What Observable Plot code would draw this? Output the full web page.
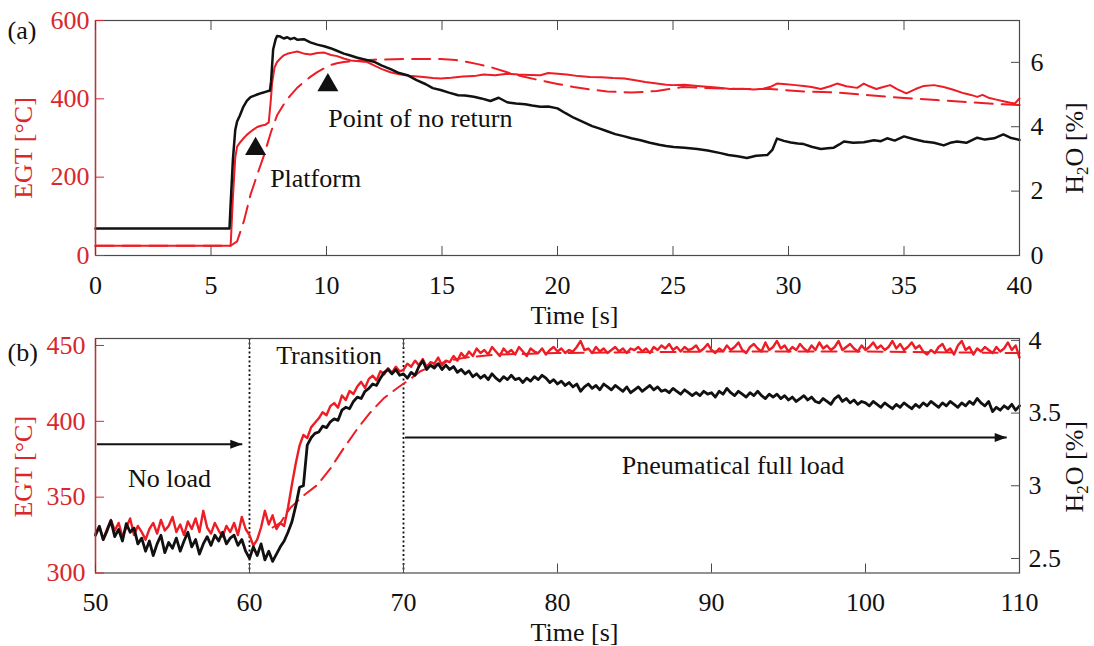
<!DOCTYPE html>
<html><head><meta charset="utf-8">
<script src="https://cdn.jsdelivr.net/npm/d3@7"></script>
<script src="https://cdn.jsdelivr.net/npm/@observablehq/plot@0.6"></script>
<style>
html,body{margin:0;padding:0;background:#fff;}
#chart svg{display:block;}
</style></head><body><div id="chart"></div>
<script>
// ---------- Panel (a) data ----------
const xTicksA = [0, 5, 10, 15, 20, 25, 30, 35, 40];
const egtTicksA = [0, 200, 400, 600];
const h2oTicksA = [0, 2, 4, 6];
const xDomainA = [0, 40];
const egtDomainA = [0, 600];
const h2oDomainA = [0, 7.3];

const tA_h2o = [0, 5.8, 5.85, 5.95, 6.05, 6.13, 6.25, 6.4, 6.55, 6.71, 6.85, 7.0, 7.2, 7.43, 7.55, 7.6, 7.69, 7.8, 7.86, 8.0, 8.15, 8.3, 8.44, 8.6, 8.75, 9.02, 9.3, 9.6, 9.9, 10.17, 10.45, 10.75, 11.0, 11.3, 11.6, 12.05, 12.4, 12.8, 13.1, 13.5, 13.9, 14.3, 14.6, 14.94, 15.3, 15.7, 16.0, 16.38, 16.7, 17.1, 17.45, 17.82, 18.2, 18.6, 18.9, 19.26, 19.6, 20.0, 20.35, 20.7, 21.1, 21.5, 21.8, 22.15, 22.5, 22.9, 23.2, 23.6, 24.0, 24.4, 24.7, 25.03, 25.5, 26.05, 26.5, 27.06, 27.4, 27.8, 28.2, 28.6, 29.08, 29.3, 29.5, 29.8, 30.1, 30.4, 30.66, 31.0, 31.4, 31.7, 31.96, 32.2, 32.4, 32.8, 33.26, 33.7, 34.0, 34.27, 34.6, 35.0, 35.4, 35.86, 36.3, 36.72, 37.0, 37.3, 37.7, 38.17, 38.5, 38.9, 39.3, 39.6, 40];
const h2oA = [0.84, 0.84, 1.6, 3.0, 3.9, 4.16, 4.35, 4.62, 4.8, 4.92, 4.96, 5.0, 5.05, 5.1, 5.12, 5.4, 6.4, 6.72, 6.82, 6.8, 6.74, 6.78, 6.72, 6.76, 6.7, 6.72, 6.62, 6.55, 6.5, 6.44, 6.36, 6.27, 6.22, 6.15, 6.1, 6.02, 5.9, 5.78, 5.68, 5.6, 5.45, 5.32, 5.2, 5.14, 5.06, 4.98, 4.97, 4.93, 4.88, 4.8, 4.9, 4.76, 4.72, 4.7, 4.66, 4.62, 4.63, 4.57, 4.42, 4.28, 4.15, 4.02, 3.95, 3.86, 3.77, 3.7, 3.64, 3.58, 3.5, 3.44, 3.4, 3.37, 3.35, 3.31, 3.26, 3.18, 3.12, 3.08, 3.03, 3.1, 3.12, 3.28, 3.63, 3.56, 3.51, 3.48, 3.46, 3.38, 3.31, 3.33, 3.35, 3.45, 3.54, 3.5, 3.52, 3.58, 3.55, 3.64, 3.57, 3.7, 3.62, 3.54, 3.5, 3.42, 3.5, 3.54, 3.5, 3.66, 3.6, 3.64, 3.76, 3.66, 3.59];

const tA_egt = [0, 5.85, 5.95, 6.05, 6.13, 6.25, 6.42, 6.55, 6.71, 6.85, 7.0, 7.2, 7.36, 7.5, 7.58, 7.65, 7.75, 7.86, 8.0, 8.15, 8.3, 8.5, 8.73, 9.0, 9.3, 9.6, 9.9, 10.2, 10.46, 10.75, 11.05, 11.4, 11.76, 12.1, 12.4, 12.77, 13.2, 13.7, 14.2, 14.6, 14.94, 15.4, 15.9, 16.38, 16.8, 17.3, 17.82, 18.3, 18.8, 19.26, 19.6, 20.0, 20.4, 20.9, 21.4, 21.9, 22.4, 22.9, 23.3, 23.8, 24.3, 24.7, 25.0, 25.5, 26.05, 26.6, 27.0, 27.5, 28.0, 28.5, 28.9, 29.2, 29.5, 29.9, 30.3, 30.66, 31.0, 31.4, 31.8, 32.1, 32.5, 32.97, 33.26, 33.5, 33.8, 34.1, 34.4, 34.7, 35.1, 35.5, 35.86, 36.3, 36.72, 37.1, 37.6, 37.9, 38.17, 38.4, 38.7, 39.0, 39.3, 39.6, 39.8, 40];
const egtA = [25, 25, 150, 250, 278, 288, 300, 308, 316, 322, 328, 332, 334, 340, 390, 443, 480, 494, 503, 511, 515, 518, 521, 516, 513, 517, 518, 512, 509, 503, 498, 496, 494, 484, 476, 468, 462, 458, 456, 453, 452, 454, 457, 458, 462, 460, 464, 462, 461, 460, 466, 464, 462, 458, 456, 455, 453, 452, 448, 443, 439, 436, 435, 436, 433, 430, 428, 425, 426, 424, 426, 430, 439, 437, 435, 433, 430, 425, 432, 439, 432, 428, 439, 432, 425, 430, 435, 425, 414, 425, 433, 435, 430, 424, 414, 410, 405, 410, 402, 398, 394, 390, 388, 401];

const tA_model = [0, 5.85, 6.13, 6.42, 6.71, 7.0, 7.3, 7.6, 7.86, 8.15, 8.44, 8.73, 9.02, 9.3, 9.6, 9.9, 10.17, 10.45, 10.75, 11.4, 12.05, 13.5, 14.94, 15.6, 16.1, 16.6, 17.1, 17.82, 18.5, 19.26, 20.0, 20.7, 21.4, 22.15, 23.2, 24.3, 25.4, 26.3, 27.8, 29.2, 30.66, 32.1, 33.5, 35.0, 36.4, 37.9, 39.3, 40];
const egtModelA = [25, 25, 36, 87, 155, 206, 257, 316, 358, 386, 409, 428, 443, 456, 468, 478, 486, 491, 494, 498, 500, 502, 502, 499, 494, 488, 481, 468, 457, 447, 438, 430, 424, 419, 416, 420, 430, 428, 425, 425, 419, 416, 409, 402, 397, 391, 386, 384];

const markTimesA = [6.93, 10.06];
const markEgtA = [272, 435];
const noteTextA = ["Platform", "Point of no return"];
const noteTimesA = [7.56, 10.08];
const noteEgtA = [197, 349];

// ---------- Panel (b) data ----------
const xTicksB = [50, 60, 70, 80, 90, 100, 110];
const egtTicksB = [300, 350, 400, 450];
const h2oTicksB = [2.5, 3, 3.5, 4];
const xDomainB = [50, 110];
const egtDomainB = [300, 454.6];
const h2oDomainB = [2.4, 4.013];
const tStartB = 50, tStepB = 0.25;

const egtB = [
326,331,322,329, 335,328,333,324, 330,336,325,331, 327,322,329,333, 326,335,328,331,
337,327,332,325, 334,329,336,327, 341,330,326,333, 328,324,331,327, 333,325,337,329,
325,318,322,330, 341,332,338,329, 333,331,343,358, 372,384,391,389, 396,399,402,406,
404,410,412,409, 417,414,420,418, 423,426,422,428, 430,427,433,431, 435,432,436,433,
434,438,436,440, 437,441,436,439, 438,442,437,440, 439,443,440,445, 442,446,443,448,
445,447,444,449, 446,443,448,445, 447,444,449,446, 443,448,446,445, 448,444,447,449,
446,448,445,447, 446,449,453,447, 448,445,449,446, 448,445,447,449, 446,448,445,448,
447,449,446,448, 445,449,447,450, 448,451,447,449, 446,449,447,448, 450,446,448,451,
447,445,448,446, 450,447,449,452, 447,445,449,451, 448,446,452,447, 449,453,448,450,
446,449,447,451, 448,446,450,447, 452,448,450,447, 449,453,447,449, 451,448,446,450,
447,449,452,448, 450,447,449,453, 448,451,447,449, 452,448,450,446, 444,447,445,449,
451,446,448,444, 450,453,447,449, 444,448,446,449, 447,445,449,446, 448,452,447,450,
442];

const h2oB = [
2.66,2.72,2.63,2.69, 2.76,2.65,2.70,2.62, 2.74,2.68,2.71,2.60, 2.64,2.55,2.62,2.52, 2.60,2.66,2.54,2.61,
2.57,2.64,2.55,2.62, 2.68,2.58,2.63,2.53, 2.60,2.65,2.59,2.66, 2.62,2.68,2.60,2.64, 2.66,2.59,2.63,2.55,
2.50,2.58,2.52,2.60, 2.49,2.55,2.48,2.53, 2.58,2.62,2.68,2.75, 2.86,2.99,3.00,3.28, 3.33,3.36,3.37,3.41,
3.40,3.44,3.46,3.45, 3.52,3.54,3.53,3.58, 3.61,3.60,3.65,3.67, 3.70,3.69,3.74,3.78, 3.80,3.77,3.80,3.76,
3.77,3.74,3.78,3.76, 3.82,3.86,3.80,3.83, 3.81,3.84,3.80,3.83, 3.80,3.82,3.78,3.80, 3.77,3.79,3.75,3.77,
3.74,3.76,3.73,3.77, 3.74,3.72,3.75,3.73, 3.76,3.73,3.74,3.71, 3.74,3.72,3.75,3.73, 3.76,3.74,3.71,3.73,
3.70,3.72,3.69,3.71, 3.68,3.70,3.65,3.68, 3.70,3.67,3.69,3.66, 3.70,3.68,3.66,3.69, 3.67,3.65,3.68,3.64,
3.66,3.68,3.65,3.67, 3.69,3.66,3.68,3.65, 3.66,3.64,3.67,3.65, 3.63,3.66,3.64,3.62, 3.64,3.62,3.65,3.63,
3.64,3.61,3.65,3.63, 3.67,3.64,3.62,3.65, 3.63,3.61,3.64,3.62, 3.65,3.62,3.60,3.63, 3.61,3.63,3.60,3.62,
3.59,3.61,3.58,3.60, 3.62,3.59,3.61,3.58, 3.57,3.60,3.58,3.56, 3.60,3.62,3.58,3.60, 3.57,3.59,3.56,3.58,
3.57,3.55,3.58,3.56, 3.54,3.57,3.55,3.53, 3.56,3.54,3.57,3.55, 3.53,3.56,3.54,3.57, 3.55,3.58,3.56,3.54,
3.57,3.55,3.58,3.56, 3.54,3.57,3.55,3.58, 3.56,3.60,3.57,3.55, 3.58,3.51,3.54,3.52, 3.55,3.53,3.56,3.52,
3.55];

const tB_model = [61.5, 62.0, 62.66, 63.5, 64.4, 65.26, 66.1, 67.0, 67.86, 68.7, 69.6, 70.45, 71.1, 72, 73, 74, 76, 80, 90, 100, 110];
const egtModelB = [330, 333, 343, 351, 358, 369, 382, 395, 406, 415, 422, 428, 433, 437, 440, 442, 444, 445, 446, 446, 445];

const phaseBounds = [60, 70];
const phaseText = ["Transition", "No load", "Pneumatical full load"];
const phaseTextTimes = [65.17, 54.8, 91.4];
const phaseTextEgt = [443.5, 362, 371];
const arrowStart = [50.1, 70.1];
const arrowEnd = [59.53, 109.17];
const arrowEgt = [384.8, 389.4];

// ---------- styling ----------
const RED = "#ee1c24", RED_AX = "#d8282d", INK = "#111", FRAME = "#4a4a4a";
const FONT = "'Liberation Serif', 'Times New Roman', serif";

const mapper = (dL, dR) => ({
  to: h => dL[0] + (h - dR[0]) * (dL[1] - dL[0]) / (dR[1] - dR[0]),
  from: y => dR[0] + (y - dL[0]) * (dR[1] - dR[0]) / (dL[1] - dL[0])
});
const mA = mapper(egtDomainA, h2oDomainA);
const mB = mapper(egtDomainB, h2oDomainB);

const arrowHead = {draw(ctx) { ctx.moveTo(0, 0); ctx.lineTo(-12, -4.5); ctx.lineTo(-12, 4.5); ctx.closePath(); }};

function frameMarks({xDomain, xTicks, yTicks, rTicks, m, rFmt, lPad, rPad, tag, tagDy, labDy}) {
  return [
    Plot.frame({stroke: FRAME, strokeWidth: 1.2}),
    Plot.ruleX([xDomain[0]], {stroke: RED_AX, strokeWidth: 1.4}),
    Plot.axisX(xTicks, {anchor: "bottom", tickSize: 0, tickPadding: 20, label: null, fill: INK}),
    Plot.axisX(xTicks, {anchor: "bottom", tickSize: 9, dy: -9, stroke: FRAME, fill: "none", label: null}),
    Plot.axisX(xTicks, {anchor: "top", tickSize: 9, dy: 9, stroke: FRAME, fill: "none", label: null}),
    Plot.axisY(yTicks, {anchor: "left", tickSize: 0, tickPadding: lPad, label: null, fill: RED_AX}),
    Plot.axisY(yTicks, {anchor: "left", tickSize: 9, dx: 9, stroke: RED_AX, fill: "none", label: null}),
    Plot.axisY(rTicks.map(m.to), {anchor: "right", tickSize: 0, tickPadding: rPad, label: null, fill: INK, tickFormat: d => rFmt(m.from(d))}),
    Plot.axisY(rTicks.map(m.to), {anchor: "right", tickSize: 9, dx: -9, stroke: FRAME, fill: "none", label: null}),
    Plot.text(["EGT [°C]"], {frameAnchor: "left", dx: -72, dy: labDy, rotate: -90, textAnchor: "middle", lineAnchor: "middle", fill: RED_AX, text: d => d}),
    Plot.text(["H2O [%]"], {frameAnchor: "right", dx: 55, dy: labDy, rotate: -90, textAnchor: "middle", lineAnchor: "middle", fill: INK, text: d => d}),
    Plot.text([tag], {frameAnchor: "top-left", dx: -88, dy: tagDy, textAnchor: "start", lineAnchor: "middle", fill: INK, text: d => d}),
    Plot.text(["Time [s]"], {frameAnchor: "bottom", dx: 17, dy: 60, textAnchor: "middle", lineAnchor: "middle", fill: INK, text: d => d})
  ];
}

const style = {fontFamily: FONT, fontSize: "26px", background: "white", color: INK, overflow: "visible"};

const svgA = Plot.plot({
  width: 1094, height: 330, marginLeft: 95, marginRight: 75, marginTop: 20, marginBottom: 75,
  style,
  x: {domain: xDomainA}, y: {domain: egtDomainA},
  marks: [
    Plot.line(tA_model, {x: d => d, y: (d, i) => egtModelA[i], stroke: RED, strokeWidth: 2, strokeDasharray: "18,9"}),
    Plot.line(tA_egt, {x: d => d, y: (d, i) => egtA[i], stroke: RED, strokeWidth: 2}),
    Plot.line(tA_h2o, {x: d => d, y: (d, i) => mA.to(h2oA[i]), stroke: INK, strokeWidth: 2.5}),
    Plot.dot(markTimesA, {x: d => d, y: (d, i) => markEgtA[i], symbol: "triangle", r: 7.8, fill: INK}),
    Plot.text(noteTextA, {x: (d, i) => noteTimesA[i], y: (d, i) => noteEgtA[i], text: d => d, textAnchor: "start", fill: INK}),
    ...frameMarks({xDomain: xDomainA, xTicks: xTicksA, yTicks: egtTicksA, rTicks: h2oTicksA, m: mA,
      rFmt: v => String(Math.round(v)), lPad: 6, rPad: 11, tag: "(a)", tagDy: 10, labDy: 10})
  ]
});

const tB = egtB.map((_, i) => tStartB + i * tStepB);
const svgB = Plot.plot({
  width: 1094, height: 316, marginLeft: 95, marginRight: 75, marginTop: 8, marginBottom: 73.5,
  style,
  x: {domain: xDomainB}, y: {domain: egtDomainB},
  marks: [
    Plot.ruleX(phaseBounds, {stroke: INK, strokeWidth: 1.8, strokeDasharray: "2,2.5"}),
    Plot.line(tB_model, {x: d => d, y: (d, i) => egtModelB[i], stroke: RED, strokeWidth: 2, strokeDasharray: "15,8"}),
    Plot.line(tB, {x: d => d, y: (d, i) => egtB[i], stroke: RED, strokeWidth: 2.4}),
    Plot.line(tB, {x: d => d, y: (d, i) => mB.to(h2oB[i]), stroke: INK, strokeWidth: 2.8}),
    Plot.link(arrowStart, {x1: d => d, x2: (d, i) => arrowEnd[i], y1: (d, i) => arrowEgt[i], y2: (d, i) => arrowEgt[i], stroke: INK, strokeWidth: 2}),
    Plot.dot(arrowEnd, {x: d => d, y: (d, i) => arrowEgt[i], symbol: arrowHead, fill: INK, stroke: "none"}),
    Plot.text(phaseText, {x: (d, i) => phaseTextTimes[i], y: (d, i) => phaseTextEgt[i], text: d => d, fill: INK}),
    ...frameMarks({xDomain: xDomainB, xTicks: xTicksB, yTicks: egtTicksB, rTicks: h2oTicksB, m: mB,
      rFmt: v => String(+v.toFixed(1)), lPad: 10, rPad: 9, tag: "(b)", tagDy: 14, labDy: 11})
  ]
});

const root = document.getElementById("chart");
root.append(svgA, svgB);

// subscript for H2O
const SVGNS = "http://www.w3.org/2000/svg";
root.querySelectorAll("text").forEach(t => {
  if (t.textContent === "H2O [%]") {
    t.textContent = "";
    const parts = [["H", null, null], ["2", "17px", "5"], ["O [%]", null, "-5"]];
    for (const [s, fs, dy] of parts) {
      const ts = document.createElementNS(SVGNS, "tspan");
      ts.textContent = s;
      if (fs) ts.setAttribute("font-size", fs);
      if (dy) ts.setAttribute("dy", dy);
      t.appendChild(ts);
    }
  }
});
</script></body></html>
